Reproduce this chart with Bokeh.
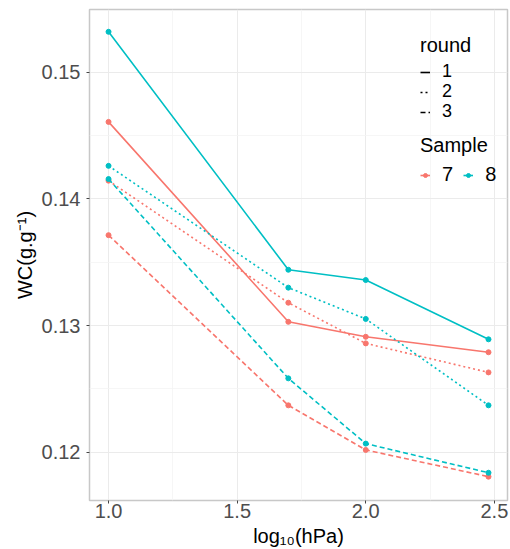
import numpy as np
from bokeh.plotting import figure
from bokeh.models import FixedTicker, Legend, LegendItem, Range1d, ColumnDataSource
from bokeh.embed import file_html
from bokeh.resources import INLINE

pressure_hpa = [10, 50, 100, 300]
x_vals = list(np.log10(pressure_hpa))

s7_r1 = [0.14607, 0.13029, 0.12911, 0.12789]
s7_r2 = [0.14143, 0.13180, 0.12859, 0.12630]
s7_r3 = [0.13713, 0.12370, 0.12018, 0.11807]
s8_r1 = [0.15318, 0.13440, 0.13359, 0.12891]
s8_r2 = [0.14260, 0.13299, 0.13052, 0.12370]
s8_r3 = [0.14156, 0.12583, 0.12068, 0.11838]

samples = ["7", "8"]
rounds = ["1", "2", "3"]
x_ticks = [1.0, 1.5, 2.0, 2.5]
x_minor = [1.25, 1.75, 2.25]
y_ticks = [0.12, 0.13, 0.14, 0.15]
y_minor = [0.115, 0.125, 0.135, 0.145]

colors = {"7": "#F8766D", "8": "#00BFC4"}
dashes = {"1": "solid", "2": "2 3", "3": "5 3"}
series = {("7", "1"): s7_r1, ("7", "2"): s7_r2, ("7", "3"): s7_r3,
          ("8", "1"): s8_r1, ("8", "2"): s8_r2, ("8", "3"): s8_r3}

FONT = "Liberation Sans"

p = figure(width=510, height=549, output_backend="svg", toolbar_location=None,
           x_range=Range1d(0.926, 2.551), y_range=Range1d(0.11619, 0.15494),
           min_border_left=89, min_border_right=3, min_border_top=9, min_border_bottom=47)

p.background_fill_color = "white"
p.border_fill_color = "white"
p.outline_line_color = "#c8c8c8"
p.outline_line_width = 1.5

p.xaxis.ticker = FixedTicker(ticks=x_ticks, minor_ticks=x_minor)
p.yaxis.ticker = FixedTicker(ticks=y_ticks, minor_ticks=y_minor)
p.xaxis.major_label_overrides = {1.0: "1.0", 1.5: "1.5", 2.0: "2.0", 2.5: "2.5"}
p.yaxis.major_label_overrides = {0.12: "0.12", 0.13: "0.13", 0.14: "0.14", 0.15: "0.15"}

for ax in (p.xaxis, p.yaxis):
    ax.axis_line_color = None
    ax.major_tick_line_color = "#444444"
    ax.major_tick_out = 3
    ax.major_tick_in = 0
    ax.minor_tick_line_color = None
    ax.major_label_text_font = FONT
    ax.major_label_text_font_size = "20px"
    ax.major_label_text_color = "#4D4D4D"
    ax.axis_label_text_font = FONT
    ax.axis_label_text_font_size = "20px"
    ax.axis_label_text_font_style = "normal"
    ax.axis_label_text_color = "black"

p.xaxis.axis_label = "log\u2081\u2080(hPa)"
p.yaxis.axis_label = "WC(g.g\u207b\u00b9)"
p.xaxis.major_label_standoff = -1
p.xaxis.axis_label_standoff = 4
p.yaxis.major_label_standoff = 5
p.yaxis.axis_label_standoff = 3

for g in (p.xgrid, p.ygrid):
    g.grid_line_color = "#ebebeb"
    g.grid_line_width = 1
    g.minor_grid_line_color = "#f4f4f4"
    g.minor_grid_line_width = 0.8

renderers = {}
for s in samples:
    for r in rounds:
        src = ColumnDataSource(dict(x=x_vals, y=series[(s, r)]))
        ln = p.line("x", "y", source=src, line_color=colors[s], line_width=1.6,
                    line_dash=dashes[r])
        pt = p.scatter("x", "y", source=src, size=5, fill_color=colors[s],
                       line_color=colors[s])
        renderers[(s, r)] = (ln, pt)

common = dict(title_text_font=FONT, title_text_font_size="20px", title_text_font_style="normal",
              title_text_color="black", label_text_font=FONT, label_text_font_size="20px",
              label_text_color="black",
              glyph_width=10, glyph_height=18, label_height=18,
              label_width=11, label_standoff=12, padding=0, margin=0,
              background_fill_alpha=0, border_line_color=None)

# "round" legend: black keys from invisible (NaN) renderers; one Legend per row so
# that rows can sit closer together than Bokeh's default layout allows
round_locs = {"1": 418, "2": 398, "3": 378}
for r in rounds:
    d = p.line(x=x_vals, y=[np.nan] * len(x_vals), line_color="black", line_width=1.6,
               line_dash=dashes[r])
    kw = dict(common)
    kw["label_text_font_size"] = "18px"
    if r == "1":
        kw.update(title="round", title_standoff=4)
    leg = Legend(items=[LegendItem(label=r, renderers=[d])], location=(331, round_locs[r]), **kw)
    p.add_layout(leg)

sample_items = []
for s in samples:
    ln, pt = renderers[(s, "1")]
    sample_items.append(LegendItem(label=s, renderers=[ln, pt]))

leg_sample = Legend(items=sample_items, title="Sample", location=(331, 314),
                    orientation="horizontal", spacing=10, title_standoff=6, **common)
p.add_layout(leg_sample)

open("out.html", "w").write(file_html(p, INLINE))
